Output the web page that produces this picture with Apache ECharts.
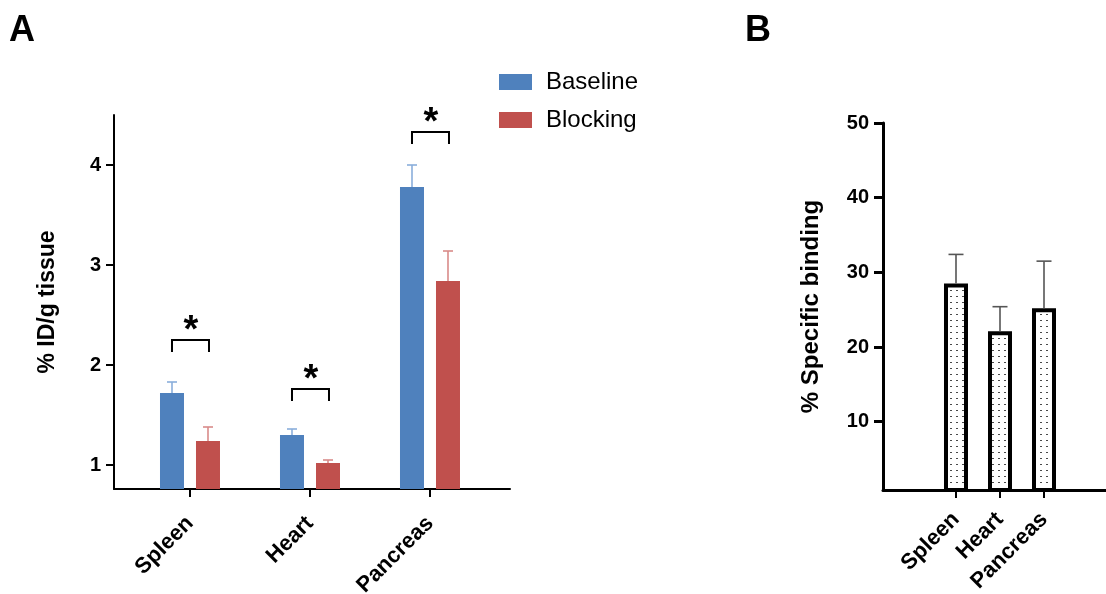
<!DOCTYPE html>
<html>
<head>
<meta charset="utf-8">
<script src="https://cdn.jsdelivr.net/npm/echarts@6/dist/echarts.min.js"></script>
<style>
html,body{margin:0;padding:0;background:#fff;}
#chart{width:1106px;height:594px;}
</style>
</head>
<body>
<div id="chart"></div>
<script>
// ---- data ----
const categories = ['Spleen', 'Heart', 'Pancreas'];
const baselineMean = [1.72, 1.30, 3.78];
const baselineErrTop = [1.83, 1.36, 4.00];
const blockingMean = [1.24, 1.02, 2.84];
const blockingErrTop = [1.38, 1.05, 3.14];
const bracketLevel = [2.25, 1.76, 4.33];
const sigLabels = ['*', '*', '*'];
const yTicksA = [1, 2, 3, 4];

const specificMean = [28.5, 22.1, 25.2];
const specificErrTop = [32.4, 25.4, 31.5];
const yTicksB = [10, 20, 30, 40, 50];

// ---- style ----
const FONT = '"Liberation Sans", Arial, sans-serif';
const BLUE = '#4f81bd', RED = '#c0504d';
const BLUE_ERR = '#8aaedb', RED_ERR = '#d98b89';
const catIdx = categories.map((c, i) => i);

// dot pattern for panel B
const pat = document.createElement('canvas');
pat.width = 6; pat.height = 6;
const pctx = pat.getContext('2d');
pctx.fillStyle = '#ffffff'; pctx.fillRect(0, 0, 6, 6);
pctx.fillStyle = '#4a4a4a'; pctx.fillRect(2, 2, 2, 1);

function errSeries(name, means, tops, xAxisIndex, yAxisIndex, offset, cap, color, lw) {
  return {
    type: 'custom', xAxisIndex, yAxisIndex, silent: true, z: 5,
    data: catIdx.map(i => [i, means[i], tops[i]]),
    renderItem: function (params, api) {
      const b = api.coord([api.value(0), api.value(1)]);
      const t = api.coord([api.value(0), api.value(2)]);
      const x = b[0] + offset;
      return {
        type: 'group', children: [
          { type: 'line', shape: { x1: x, y1: b[1], x2: x, y2: t[1] }, style: { stroke: color, lineWidth: lw } },
          { type: 'line', shape: { x1: x - cap / 2, y1: t[1], x2: x + cap / 2, y2: t[1] }, style: { stroke: color, lineWidth: lw } }
        ]
      };
    }
  };
}

function xAxisCfg(gridIndex, min, max, lineW, margin) {
  return {
    type: 'value', gridIndex, min, max,
    splitLine: { show: false },
    axisLine: { onZero: false, lineStyle: { color: '#000', width: lineW } },
    axisTick: { customValues: catIdx, length: 8, lineStyle: { color: '#000', width: 2 } },
    axisLabel: {
      customValues: catIdx, rotate: 45, margin: margin,
      formatter: v => categories[Math.round(v)],
      fontSize: 22, fontWeight: 'bold', color: '#000', fontFamily: FONT
    }
  };
}

const chart = echarts.init(document.getElementById('chart'), null, { renderer: 'canvas' });
const option = {
  animation: false,
  backgroundColor: '#fff',
  textStyle: { fontFamily: FONT },
  title: [
    { text: 'A', left: 4, top: 8, textStyle: { fontSize: 36, fontWeight: 'bold', color: '#000', fontFamily: FONT } },
    { text: 'B', left: 740, top: 8, textStyle: { fontSize: 36, fontWeight: 'bold', color: '#000', fontFamily: FONT } }
  ],
  legend: {
    data: ['Baseline', 'Blocking'],
    orient: 'vertical', left: 494, top: 65,
    itemWidth: 33, itemHeight: 16, itemGap: 14,
    icon: 'rect',
    textStyle: { fontSize: 24, color: '#000', fontFamily: FONT, padding: [0, 0, 0, 9] }
  },
  grid: [
    { left: 114, top: 115, width: 396, height: 374, outerBoundsMode: 'none', containLabel: false },
    { left: 883, top: 123, width: 223, height: 367, outerBoundsMode: 'none', containLabel: false }
  ],
  xAxis: [
    xAxisCfg(0, -0.6333, 2.6667, 2, 31),
    xAxisCfg(1, -1.659, 3.409, 3, 26)
  ],
  yAxis: [
    {
      type: 'value', gridIndex: 0, min: 0.76, max: 4.5,
      name: '% ID/g tissue', nameLocation: 'middle', nameGap: 55,
      nameTextStyle: { fontSize: 23, fontWeight: 'bold', color: '#000', fontFamily: FONT },
      splitLine: { show: false },
      axisLine: { show: true, onZero: false, lineStyle: { color: '#000', width: 2 } },
      axisTick: { show: true, customValues: yTicksA, length: 8, lineStyle: { color: '#000', width: 2 } },
      axisLabel: { customValues: yTicksA, margin: 13, fontSize: 20, fontWeight: 'bold', color: '#000', fontFamily: FONT }
    },
    {
      type: 'value', gridIndex: 1, min: 0.85, max: 50,
      name: '% Specific binding', nameLocation: 'middle', nameGap: 60,
      nameTextStyle: { fontSize: 24, fontWeight: 'bold', color: '#000', fontFamily: FONT },
      splitLine: { show: false },
      axisLine: { show: true, onZero: false, lineStyle: { color: '#000', width: 3 } },
      axisTick: { show: true, customValues: yTicksB, length: 9, lineStyle: { color: '#000', width: 3 } },
      axisLabel: { customValues: yTicksB, margin: 14, fontSize: 20, fontWeight: 'bold', color: '#000', fontFamily: FONT }
    }
  ],
  series: [
    {
      name: 'Baseline', type: 'bar', xAxisIndex: 0, yAxisIndex: 0,
      barWidth: 24, barGap: '50%', clip: true,
      itemStyle: { color: BLUE },
      data: catIdx.map(i => [i, baselineMean[i]])
    },
    {
      name: 'Blocking', type: 'bar', xAxisIndex: 0, yAxisIndex: 0,
      barWidth: 24, barGap: '50%', clip: true,
      itemStyle: { color: RED },
      data: catIdx.map(i => [i, blockingMean[i]])
    },
    errSeries('errBase', baselineMean, baselineErrTop, 0, 0, -18, 10, BLUE_ERR, 1.6),
    errSeries('errBlock', blockingMean, blockingErrTop, 0, 0, 18, 10, RED_ERR, 1.6),
    {
      type: 'custom', xAxisIndex: 0, yAxisIndex: 0, silent: true, z: 6,
      data: catIdx.map(i => [i, bracketLevel[i]]),
      renderItem: function (params, api) {
        const p = api.coord([api.value(0), api.value(1)]);
        const xl = p[0] - 18, xr = p[0] + 19, y = p[1];
        return {
          type: 'group', children: [
            { type: 'polyline', shape: { points: [[xl, y + 12], [xl, y], [xr, y], [xr, y + 12]] },
              style: { stroke: '#000', lineWidth: 2, fill: null } },
            { type: 'text', style: { text: sigLabels[params.dataIndex], x: p[0] + 1, y: y - 8,
              textAlign: 'center', textVerticalAlign: 'middle', fontSize: 38, fontWeight: 'bold', fontFamily: FONT, fill: '#000' } }
          ]
        };
      }
    },
    {
      name: 'Specific', type: 'bar', xAxisIndex: 1, yAxisIndex: 1,
      barWidth: 24, clip: true,
      itemStyle: { color: { image: pat, repeat: 'repeat' }, borderColor: '#000', borderWidth: 4 },
      data: catIdx.map(i => [i, specificMean[i]])
    },
    errSeries('errSpec', specificMean, specificErrTop, 1, 1, 0, 15, '#555', 1.6)
  ]
};
chart.setOption(option);
</script>
</body>
</html>
